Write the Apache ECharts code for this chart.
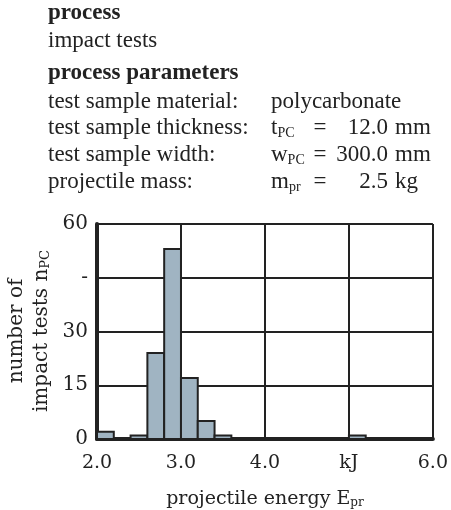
<!DOCTYPE html>
<html>
<head>
<meta charset="utf-8">
<script src="https://cdn.jsdelivr.net/npm/echarts@6/dist/echarts.min.js"></script>
<style>
  html, body { margin: 0; padding: 0; background: #fff; }
  #chart { width: 451px; height: 510px; }
</style>
</head>
<body>
<div id="chart"></div>
<script>
// histogram bins (kJ), width 0.2
const binStarts = [2.0, 2.2, 2.4, 2.6, 2.8, 3.0, 3.2, 3.4, 3.6, 3.8, 4.0, 4.2, 4.4, 4.6, 4.8, 5.0, 5.2, 5.4, 5.6, 5.8];
const counts    = [2,   0,   1,   24,  53,  17,  5,   1,   0,   0,   0,   0,   0,   0,   0,   1,   0,   0,   0,   0];
const binWidth = 0.2;

const xTicks = { 2: '2.0', 3: '3.0', 4: '4.0', 5: 'kJ', 6: '6.0' };
const yTicks = { 0: '0', 15: '15', 30: '30', 45: '-', 60: '60' };

const headerLines = [
  { text: 'process', y: 13, bold: true },
  { text: 'impact tests', y: 41 },
  { text: 'process parameters', y: 73, bold: true },
  { text: 'test sample material:', y: 102 },
  { text: 'test sample thickness:', y: 128 },
  { text: 'test sample width:', y: 155 },
  { text: 'projectile mass:', y: 182 }
];
const params = [
  { sym: 't', sub: 'PC', num: '12.0', unit: 'mm', y: 128 },
  { sym: 'w', sub: 'PC', num: '300.0', unit: 'mm', y: 155 },
  { sym: 'm', sub: 'pr', num: '2.5', unit: 'kg', y: 182 }
];

const serif = 'Liberation Serif';
const labelFont = 'DejaVu Serif';
const ink = '#222';
const hdr = '23px "' + serif + '"';

const graphics = [];
headerLines.forEach(l => {
  graphics.push({
    type: 'text', x: 48, y: l.y,
    style: { text: l.text, font: (l.bold ? 'bold ' : '') + hdr, fill: ink, verticalAlign: 'middle' }
  });
});
graphics.push({
  type: 'text', x: 271, y: 102,
  style: { text: 'polycarbonate', font: hdr, fill: ink, verticalAlign: 'middle' }
});
params.forEach(p => {
  graphics.push({
    type: 'text', x: 271, y: p.y,
    style: {
      text: p.sym + '{s|' + p.sub + '}',
      font: hdr, fill: ink, verticalAlign: 'middle',
      rich: { s: { fontFamily: serif, fontSize: 14, padding: [10, 0, 0, 0] } }
    }
  });
  graphics.push({
    type: 'text', x: 320, y: p.y,
    style: { text: '=', font: hdr, fill: ink, align: 'center', verticalAlign: 'middle' }
  });
  graphics.push({
    type: 'text', x: 388, y: p.y,
    style: { text: p.num, font: hdr, fill: ink, align: 'right', verticalAlign: 'middle' }
  });
  graphics.push({
    type: 'text', x: 395, y: p.y,
    style: { text: p.unit, font: hdr, fill: ink, align: 'left', verticalAlign: 'middle' }
  });
});
// y axis title, two rotated lines
graphics.push({
  type: 'text', x: 29, y: 331, rotation: Math.PI / 2,
  style: {
    text: 'number of\nimpact tests n{s|PC}',
    font: '20px "' + labelFont + '"', fill: ink, align: 'center', verticalAlign: 'middle',
    lineHeight: 25,
    rich: { s: { fontFamily: labelFont, fontSize: 13, padding: [8, 0, 0, 0] } }
  }
});

const chart = echarts.init(document.getElementById('chart'));
chart.setOption({
  animation: false,
  backgroundColor: '#fff',
  grid: { left: 97, right: 17, top: 224, bottom: 67 },
  xAxis: {
    type: 'value', min: 2, max: 6, interval: 1,
    axisLine: { show: true, onZero: false, lineStyle: { color: ink, width: 4 } },
    axisTick: { show: false },
    splitLine: { show: true, lineStyle: { color: ink, width: 2 } },
    axisLabel: {
      formatter: v => xTicks[v], color: ink, fontFamily: labelFont, fontSize: 19, margin: 15
    },
    name: 'projectile energy E{s|pr}',
    nameLocation: 'middle', nameGap: 50,
    nameTextStyle: {
      color: ink, fontFamily: labelFont, fontSize: 19,
      rich: { s: { fontFamily: labelFont, fontSize: 12, padding: [8, 0, 0, 0] } }
    }
  },
  yAxis: {
    type: 'value', min: 0, max: 60, interval: 15,
    axisLine: { show: true, lineStyle: { color: ink, width: 4 } },
    axisTick: { show: false },
    splitLine: { show: true, lineStyle: { color: ink, width: 2 } },
    axisLabel: {
      formatter: v => yTicks[v], color: ink, fontFamily: labelFont, fontSize: 20, margin: 9
    }
  },
  graphic: graphics,
  series: [{
    type: 'custom',
    data: binStarts.map((b, i) => [b, b + binWidth, counts[i]]).filter(d => d[2] > 0),
    encode: { x: [0, 1], y: 2 },
    renderItem: (params, api) => {
      const p0 = api.coord([api.value(0), 0]);
      const p1 = api.coord([api.value(1), api.value(2)]);
      return {
        type: 'rect',
        shape: { x: p0[0], y: p1[1], width: p1[0] - p0[0], height: p0[1] - p1[1] },
        style: { fill: '#a0b4c2', stroke: ink, lineWidth: 2 }
      };
    }
  }]
});
</script>
</body>
</html>
